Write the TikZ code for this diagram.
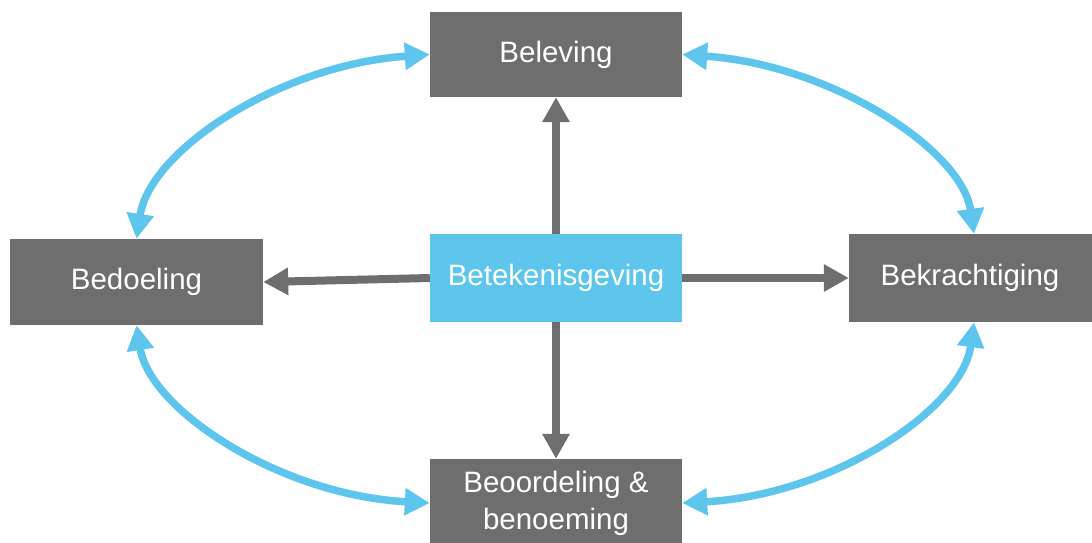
\documentclass[tikz,border=0pt]{standalone}
\usepackage{fontspec}
\setmainfont{Liberation Sans}
\usetikzlibrary{arrows.meta}
\definecolor{boxgray}{HTML}{6E6E6E}
\definecolor{skyblue}{HTML}{5EC5EC}
\begin{document}
\begin{tikzpicture}[x=1pt,y=-1pt,
  graybox/.style={fill=boxgray,text=white,inner sep=0pt,minimum width=252pt,minimum height=86pt,font=\fontsize{29.5}{37}\selectfont,align=center},
  bluebox/.style={graybox,fill=skyblue},
  grayarrow/.style={draw=boxgray,line width=8pt,-{Triangle[length=25pt,width=26pt]}},
  bluearrow/.style={draw=skyblue,line width=7.5pt,{Triangle[length=25pt,width=26pt]}-{Triangle[length=25pt,width=26pt]}}]
\useasboundingbox (0,0) rectangle (1092,542);
\node[graybox,minimum height=85pt] (bel) at (556,54.5) {Beleving};
\node[graybox,minimum width=253pt] (bed) at (136.5,282) {Bedoeling};
\node[bluebox,minimum height=88pt] (bet) at (556,278) {Betekenisgeving};
\node[graybox,minimum height=88pt,minimum width=250pt] (bek) at (974,278) {\hspace*{-8pt}Bekrachtiging};
\node[graybox,minimum height=88pt] (beo) at (556,503) {Beoordeling \&\\benoeming};
\draw[grayarrow] (bet.north) -- (bel.south);
\draw[grayarrow] (bet.south) -- (beo.north);
\draw[grayarrow] (bet.west) -- (bed.east);
\draw[grayarrow] (bet.east) -- (bek.west);
\draw[bluearrow] (bed.north) .. controls (150,150) and (280,65) .. (bel.west);
\draw[bluearrow] (bel.east) .. controls (832,65) and (962,150) .. (bek.north);
\draw[bluearrow] (bed.south) .. controls (150,410) and (280,495) .. (beo.west);
\draw[bluearrow] (bek.south) .. controls (962,410) and (832,495) .. (beo.east);
\end{tikzpicture}
\end{document}
